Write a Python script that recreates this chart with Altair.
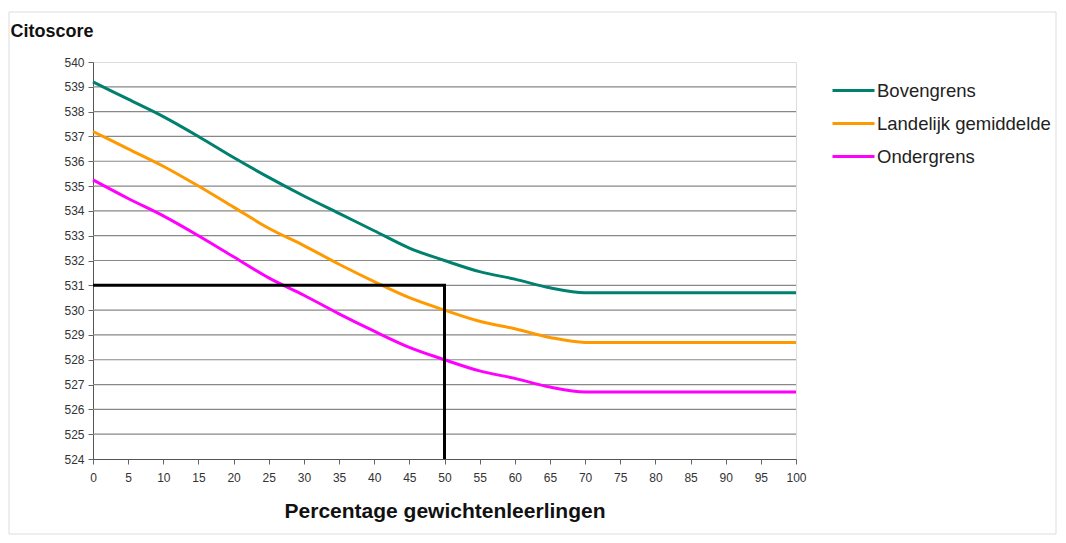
import altair as alt
import pandas as pd

pct = list(range(0, 101, 5))
bovengrens = [539.2, 538.5, 537.8, 537.0, 536.15, 535.35, 534.6, 533.9, 533.2, 532.5, 532.0,
              531.55, 531.25, 530.9, 530.7, 530.7, 530.7, 530.7, 530.7, 530.7, 530.7]
landelijk = [537.2, 536.5, 535.8, 535.0, 534.15, 533.3, 532.6, 531.85, 531.15, 530.5, 530.0,
             529.55, 529.25, 528.9, 528.7, 528.7, 528.7, 528.7, 528.7, 528.7, 528.7]
ondergrens = [535.25, 534.5, 533.8, 533.0, 532.15, 531.3, 530.6, 529.85, 529.15, 528.5, 528.0,
              527.55, 527.25, 526.9, 526.7, 526.7, 526.7, 526.7, 526.7, 526.7, 526.7]
series_names = ["Bovengrens", "Landelijk gemiddelde", "Ondergrens"]
series_colors = ["#00806E", "#FF9900", "#FF00FF"]

y_ticks = list(range(524, 541))
grid_values = list(range(525, 540))

ref_x = [0, 50, 50]
ref_y = [531, 531, 524]

rows = []
for name, vals in zip(series_names, [bovengrens, landelijk, ondergrens]):
    for p, v in zip(pct, vals):
        rows.append({"pct": p, "score": v, "serie": name})
df = pd.DataFrame(rows)
ref_df = pd.DataFrame({"pct": ref_x, "score": ref_y, "o": [0, 1, 2]})
grid_df = pd.DataFrame({"score": grid_values})

FONT = "Liberation Sans"

xscale = alt.Scale(domain=[0, 100], nice=False, zero=False)
yscale = alt.Scale(domain=[524, 540], nice=False, zero=False)

x_axis = alt.Axis(values=pct, title="Percentage gewichtenleerlingen", grid=False,
                  titleFont=FONT, titleFontSize=21, titleFontWeight="bold",
                  titleColor="#111", titleY=52, titleBaseline="middle",
                  labelFont=FONT, labelFontSize=12, labelColor="#333",
                  labelPadding=8, tickSize=5, tickColor="#666",
                  domainColor="#555", labelFlush=False, labelOverlap=False)
y_axis = alt.Axis(values=y_ticks, title="Citoscore",
                  titleAngle=0, titleAlign="left", titleX=-83, titleY=-31,
                  titleBaseline="middle", titleFont=FONT, titleFontSize=18,
                  titleFontWeight="bold", titleColor="#111",
                  labelFont=FONT, labelFontSize=12, labelColor="#333",
                  labelPadding=4, tickSize=5, tickColor="#666",
                  domainColor="#555", grid=False, labelOverlap=False)

X = alt.X("pct:Q", scale=xscale, axis=x_axis)
Y = alt.Y("score:Q", scale=yscale, axis=y_axis)

grid = alt.Chart(grid_df).mark_rule(color="#888888", strokeWidth=1.2).encode(
    y=Y, x=alt.value(0), x2=alt.value(703),
)

lines = alt.Chart(df).mark_line(strokeWidth=3, interpolate="monotone").encode(
    x=X, y=Y,
    color=alt.Color("serie:N",
                    scale=alt.Scale(domain=series_names, range=series_colors),
                    legend=alt.Legend(title=None, orient="none", legendX=738, legendY=6,
                                      symbolType="stroke", symbolSize=1764,
                                      symbolStrokeWidth=3, labelFont=FONT,
                                      labelFontSize=18.5, labelColor="#222",
                                      labelOffset=1, rowPadding=1, labelLimit=0)),
)

ref = alt.Chart(ref_df).mark_line(color="black", strokeWidth=3).encode(
    x=X, y=Y, order="o:Q",
)

frame = alt.Chart(pd.DataFrame({"a": [0]})).mark_rect(
    fill=None, stroke="#dddddd", strokeWidth=1
).encode(x=alt.value(-84), x2=alt.value(963), y=alt.value(-50), y2=alt.value(472))

chart = alt.layer(frame, grid, lines, ref).properties(
    width=703, height=397,
    autosize=alt.AutoSizeParams(type="none"),
    padding={"left": 85, "top": 54, "right": 262, "bottom": 76},
).configure_view(stroke=None).configure(background="white")

chart.save("out.html", embed_options={"renderer": "svg", "actions": False})
